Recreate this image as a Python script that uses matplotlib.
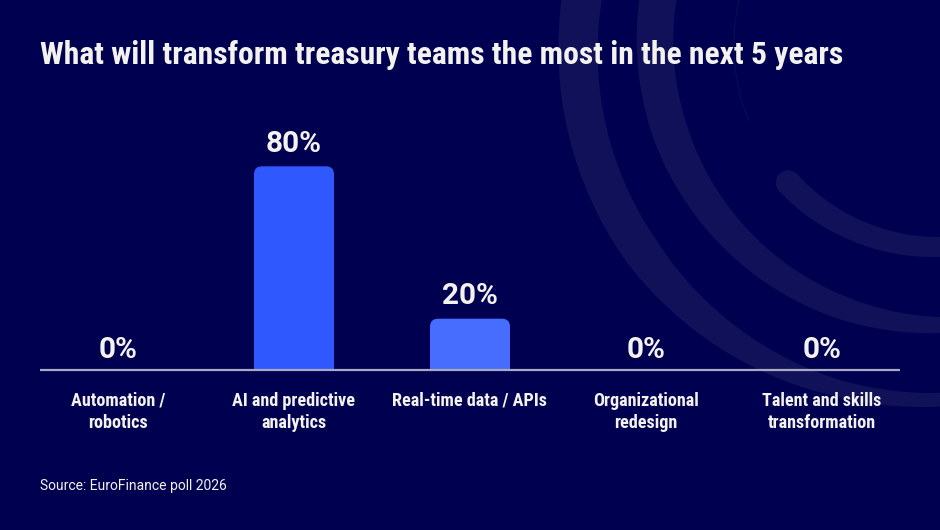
import numpy as np
import matplotlib
matplotlib.use("Agg")
import matplotlib.pyplot as plt
from matplotlib import font_manager
from matplotlib.patches import Polygon, Circle, FancyBboxPatch

categories = ["Automation /\nrobotics", "AI and predictive\nanalytics", "Real-time data / APIs",
              "Organizational\nredesign", "Talent and skills\ntransformation"]
values = [0, 80, 20, 0, 0]
value_labels = ["0%", "80%", "20%", "0%", "0%"]
title = "What will transform treasury teams the most in the next 5 years"
source = "Source: EuroFinance poll 2026"

BG = "#000050"
ARC = "#11115a"
TXT = "#f4f2ee"
bar_colors = ["#2f59ff", "#2f59ff", "#466dff", "#2f59ff", "#2f59ff"]


def pick(names):
    for n in names:
        try:
            font_manager.findfont(font_manager.FontProperties(family=n), fallback_to_default=False)
            return n
        except Exception:
            pass
    return "DejaVu Sans"


narrow = pick(["Liberation Sans Narrow", "Roboto Condensed", "Roboto", "DejaVu Sans"])
plain = pick(["Roboto", "Liberation Sans", "DejaVu Sans"])

fig = plt.figure(figsize=(9.4, 5.3), dpi=100, facecolor=BG)

# background arcs, pixel coords
bg = fig.add_axes([0, 0, 1, 1], zorder=0)
bg.set_xlim(0, 940)
bg.set_ylim(530, 0)
bg.axis("off")
bg.set_facecolor(BG)


def band(cx, cy, r, t0, t1, ang, wid):
    th = np.linspace(t0, t1, 300)
    w = np.interp(th, ang, wid)
    t = np.radians(th)
    outer = np.c_[cx + (r + w / 2) * np.cos(t), cy + (r + w / 2) * np.sin(t)]
    inner = np.c_[cx + (r - w / 2) * np.cos(t), cy + (r - w / 2) * np.sin(t)]
    bg.add_patch(Polygon(np.r_[outer, inner[::-1]], closed=True, color=ARC, lw=0))


band(928, 50, 350, 60, 200, [90, 105, 125, 145, 190], [14, 17, 27, 37, 40])
band(940, 40, 285, 60, 200, [90, 112, 135, 161, 190], [16, 24, 30, 36, 37])
band(936, 45, 202, 60, 137, [90, 137], [20, 25])
t = np.radians(137)
bg.add_patch(Circle((936 + 202 * np.cos(t), 45 + 202 * np.sin(t)), 12.5, color=ARC, lw=0))
th = np.radians(np.linspace(158, 200, 100))
bg.plot(936 + 202 * np.cos(th), 45 + 202 * np.sin(th), color="#0b0b56", lw=0.8)

# chart axes: baseline at y=369.5 px, 1% = 2.54 px
ax = fig.add_axes([30 / 940, (530 - 369.5) / 530, 880 / 940, 254 / 530], zorder=1)
ax.set_xlim(-0.5, 4.5)
ax.set_ylim(0, 100)
ax.axis("off")
ax.patch.set_alpha(0)

x = np.arange(len(values))
bw = 80 / 176
bars = ax.bar(x, values, width=bw, color=bar_colors, alpha=0)
aspect = 176 / 2.54
for b, c in zip(bars, bar_colors):
    h = b.get_height()
    if h <= 0:
        continue
    x0 = b.get_x()
    ax.add_patch(FancyBboxPatch((x0, 0), bw, h, boxstyle="round,pad=0,rounding_size=%f" % (8 / 176),
                                mutation_aspect=aspect, color=c, lw=0))
    ax.add_patch(plt.Rectangle((x0, 0), bw, min(h, 10), color=c, lw=0))

ax.plot([(40 - 118) / 176, (900 - 118) / 176], [0, 0], color="#a9a9c4", lw=1.6, clip_on=False,
        solid_capstyle="butt")

for i, (v, lab) in enumerate(zip(values, value_labels)):
    off = 8.5 if v == 0 else 10.5
    ax.annotate(lab, (i, v), xytext=(0, off), textcoords="offset points", ha="center", va="baseline",
                color=TXT, fontsize=21, fontweight="bold", family=plain)

cat_texts = []
for i, c in enumerate(categories):
    cat_texts.append(ax.annotate(c, (i, 0), xytext=(0, -16), textcoords="offset points", ha="center",
                                 va="top", color=TXT, fontsize=12.5, fontweight="bold", family=narrow,
                                 linespacing=1.3))

ttl = fig.text(40 / 940, 1 - 64 / 530, title, color=TXT, fontsize=20, fontweight="bold",
               family=narrow, va="baseline", ha="left")
src = fig.text(40 / 940, 1 - 490 / 530, source, color=TXT, fontsize=10.5, family=plain,
               va="baseline", ha="left")

# fit text widths to the reference
fig.canvas.draw()
r = fig.canvas.get_renderer()
for t_, target in [(ttl, 800), (src, 187)]:
    w = t_.get_window_extent(r).width
    t_.set_fontsize(t_.get_fontsize() * target / w)
w = cat_texts[4].get_window_extent(r).width
for t_ in cat_texts:
    t_.set_fontsize(t_.get_fontsize() * 120 / w)
w = ax.texts[2].get_window_extent(r).width
for t_ in ax.texts[:5]:
    t_.set_fontsize(t_.get_fontsize() * 56 / w)

fig.savefig("out.png", dpi=100, facecolor=BG)
